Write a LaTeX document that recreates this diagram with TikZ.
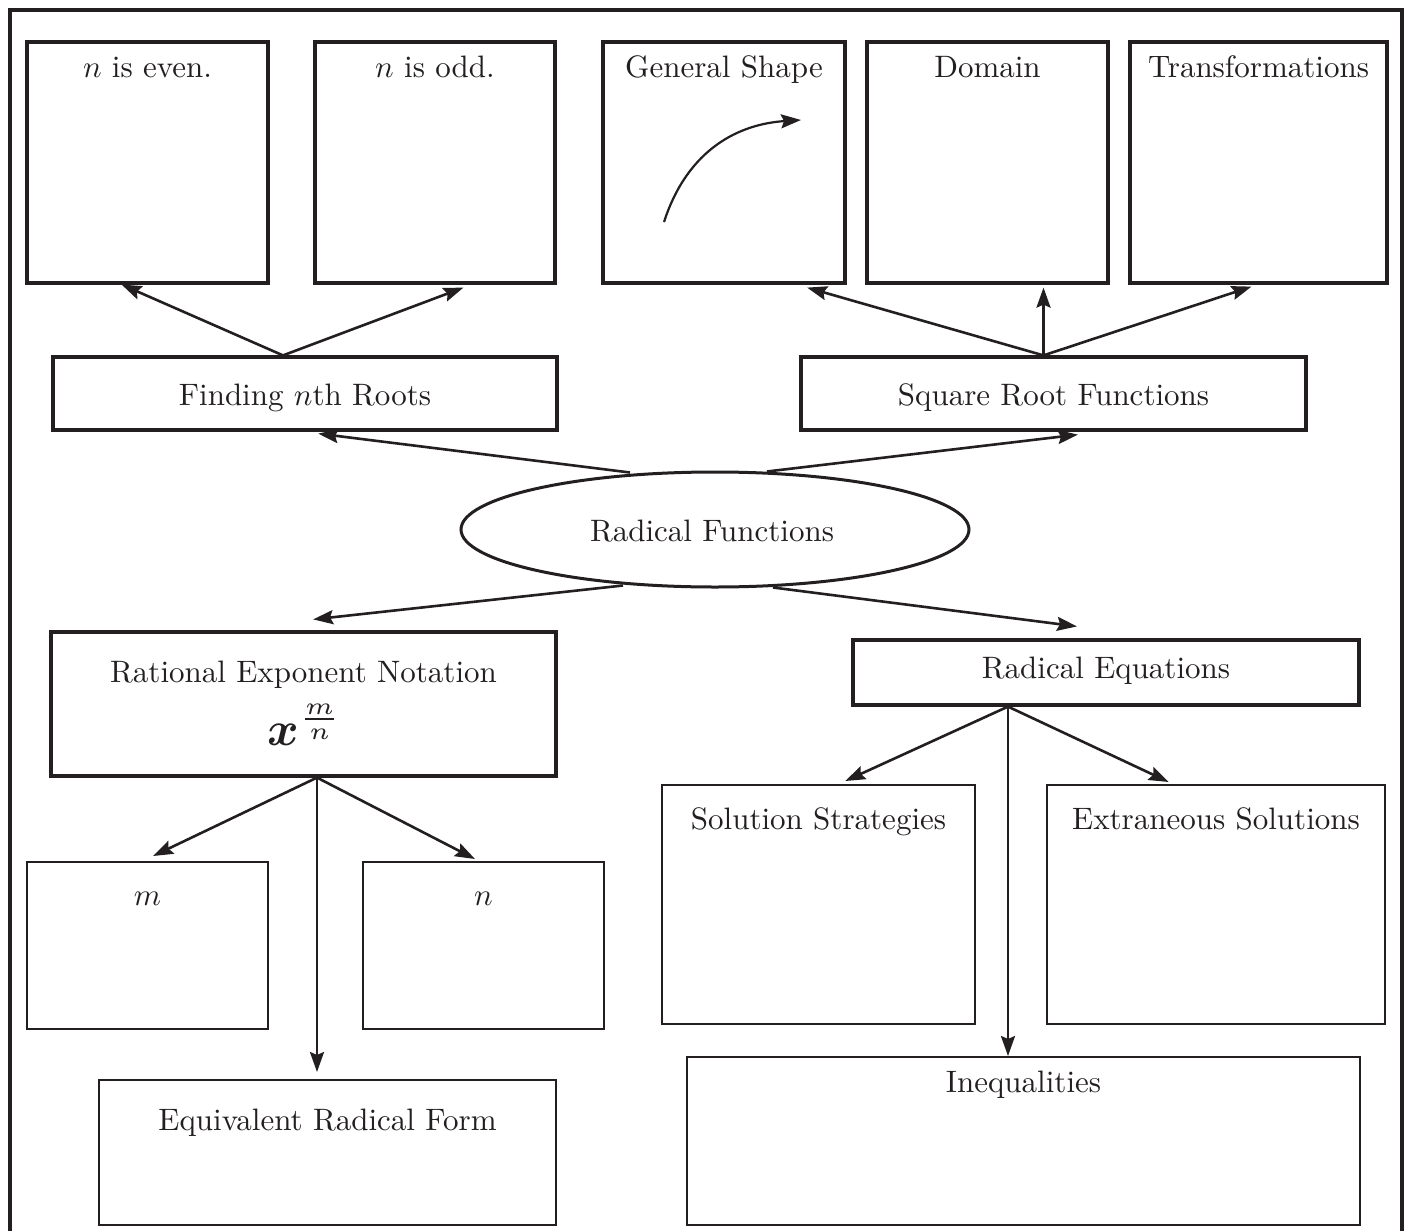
\documentclass[tikz,border=0pt]{standalone}
\usetikzlibrary{arrows.meta,calc,fit,shapes.geometric}
\definecolor{ink}{HTML}{231F20}
\begin{document}
\begin{tikzpicture}[x=0.5pt,y=-0.5pt,
  heavybox/.style={draw=ink,line width=1.6pt,inner sep=0pt},
  lightbox/.style={draw=ink,line width=1pt,inner sep=0pt},
  lbl/.style={anchor=base,inner sep=0pt,text=ink,font=\normalsize,scale=1.55},
  arr/.style={draw=ink,line width=1.3pt,-{Stealth[length=10pt,width=7pt,inset=1.5pt]}},
  frame/.style={draw=ink,line width=1.6pt}]
\useasboundingbox (0,0) rectangle (1409,1231);

% outer frame, open at the bottom edge of the page
\draw[frame] (10,1260) -- (10,10) -- (1402,10) -- (1402,1260);

% top row
\node[heavybox,fit={(27,42)(268,283)}] (even) {};
\node[heavybox,fit={(315,42)(555,283)}] (odd) {};
\node[heavybox,fit={(603,42)(845,283)}] (shape) {};
\node[heavybox,fit={(867,42)(1108,283)}] (domain) {};
\node[heavybox,fit={(1130,42)(1387,283)}] (trans) {};
\node[lbl] (evenT) at (147.5,77) {$n$ is even.};
\node[lbl] (oddT) at (435,77) {$n$ is odd.};
\node[lbl] (shapeT) at (724,77) {General Shape};
\node[lbl] (domainT) at (987.5,77) {Domain};
\node[lbl] (transT) at (1258.5,77) {Transformations};

% sketch of the square-root curve
\draw[arr,line width=1.1pt] (664,222) .. controls (688,148) and (740,124) .. (801,120);

% second row
\node[heavybox,fit={(53,357)(557,430)}] (find) {};
\node[heavybox,fit={(801,357)(1306,430)}] (sqrt) {};
\node[lbl] (findT) at (305,405) {Finding $n$th Roots};
\node[lbl] (sqrtT) at (1053.5,405) {Square Root Functions};

% central ellipse
\node[ellipse,draw=ink,line width=1.5pt,minimum width=254pt,minimum height=57.5pt,
      inner sep=0pt] (rf) at (715,529.5) {};
\node[lbl] (rfT) at (712,541.5) {Radical Functions};

% lower left branch
\node[heavybox,fit={(51,632)(556,776)}] (ren) {};
\node[lbl] (renT) at (303.5,682) {Rational Exponent Notation};
\node[lbl,scale=1.55] (renX) at (305,745) {$\mbox{\boldmath$x$}^{\frac{m}{n}}$};
\node[lightbox,fit={(27,862)(268,1029)}] (mbox) {};
\node[lightbox,fit={(363,862)(604,1029)}] (nbox) {};
\node[lightbox,fit={(99,1080)(556,1225)}] (equiv) {};
\node[lbl] (mT) at (147.5,905) {$m$};
\node[lbl] (nT) at (483.5,905) {$n$};
\node[lbl] (equivT) at (327.5,1130) {Equivalent Radical Form};

% lower right branch
\node[heavybox,fit={(853,640)(1359,705)}] (req) {};
\node[lbl] (reqT) at (1106,678) {Radical Equations};
\node[lightbox,fit={(662,785)(975,1024)}] (strat) {};
\node[lightbox,fit={(1047,785)(1385,1024)}] (extra) {};
\node[lightbox,fit={(687,1057)(1360,1225)}] (ineq) {};
\node[lbl] (stratT) at (818.5,829) {Solution Strategies};
\node[lbl] (extraT) at (1216,829) {Extraneous Solutions};
\node[lbl] (ineqT) at (1023.5,1092) {Inequalities};

% connectors
\coordinate (findA) at ($(find.north)+(-22,0)$);
\draw[arr] (findA) -- ($(even.south west)!0.394!(even.south east)$);
\draw[arr] (findA) -- ($(odd.south west)!0.617!(odd.south east)+(0,3)$);

\coordinate (sqrtA) at ($(sqrt.north)+(-10,0)$);
\draw[arr] (sqrtA) -- ($(shape.south west)!0.839!(shape.south east)+(0,3)$);
\draw[arr] (sqrtA) -- ($(sqrtA |- domain.south)+(0,3)$);
\draw[arr] (sqrtA) -- ($(trans.south west)!0.473!(trans.south east)+(0,2)$);

\draw[arr] ($(rf.north)+(-85,2)$) -- ($(find.south west)!0.526!(find.south east)+(0,2)$);
\draw[arr] ($(rf.north)+(52,1)$) -- ($(sqrt.south west)!0.548!(sqrt.south east)+(0,3)$);
\draw[arr] ($(rf.south)+(-92,-3)$) -- ($(ren.north west)!0.519!(ren.north east)+(0,-11)$);
\draw[arr] ($(rf.south)+(58,-1)$) -- ($(req.north west)!0.443!(req.north east)+(0,-12)$);

\coordinate (renA) at ($(ren.south)+(13.5,0)$);
\draw[arr] (renA) -- ($(mbox.north west)!0.523!(mbox.north east)+(0,-5)$);
\draw[arr] (renA) -- ($(nbox.north west)!0.465!(nbox.north east)+(0,-2)$);
\draw[arr] (renA) -- ($(renA |- equiv.north)+(0,-7)$);

\coordinate (reqA) at ($(req.south)+(-98,0)$);
\draw[arr] (reqA) -- ($(strat.north west)!0.585!(strat.north east)+(0,-3)$);
\draw[arr] (reqA) -- ($(extra.north west)!0.361!(extra.north east)+(0,-2)$);
\draw[arr] (reqA) -- (reqA |- ineq.north);
\end{tikzpicture}
\end{document}
